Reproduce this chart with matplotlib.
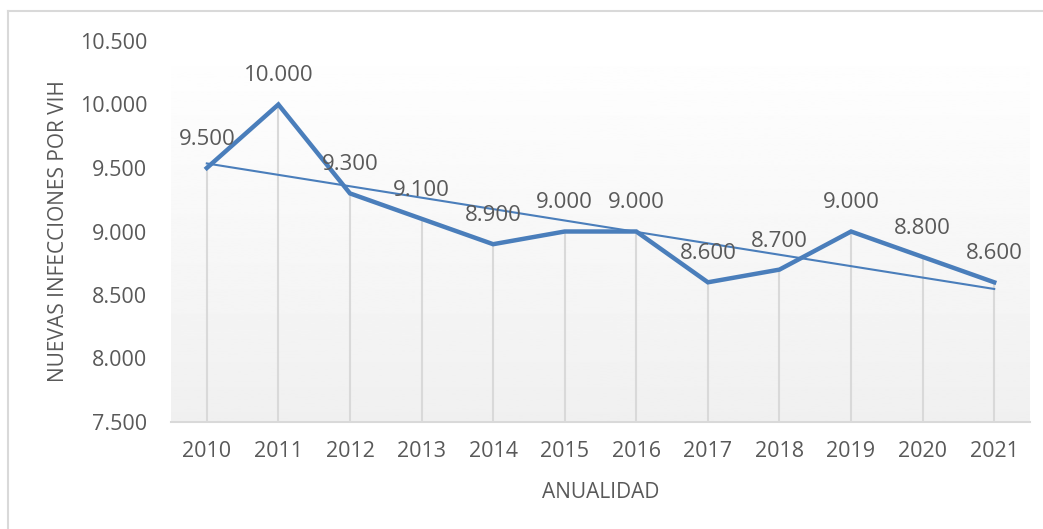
import numpy as np
import matplotlib.pyplot as plt
from matplotlib.lines import Line2D

years = ['2010', '2011', '2012', '2013', '2014', '2015', '2016', '2017', '2018', '2019', '2020', '2021']
values = [9500, 10000, 9300, 9100, 8900, 9000, 9000, 8600, 8700, 9000, 8800, 8600]
y_ticks = [7500, 8000, 8500, 9000, 9500, 10000, 10500]

plt.rcParams['font.family'] = ['Open Sans', 'DejaVu Sans']
txt = '#595959'
blue = '#4a7ebb'

fig = plt.figure(figsize=(10.43, 5.29), dpi=100)
ax = fig.add_axes([171 / 1043, 1 - 422 / 529, (1030 - 171) / 1043, (422 - 41) / 529])

x = np.arange(len(years))
ax.set_xlim(-0.5, len(years) - 0.5)
ax.set_ylim(7500, 10500)

# fondo degradado
grad = np.linspace(1.0, 0.94, 256).reshape(-1, 1)
ax.imshow(grad, cmap='gray', vmin=0, vmax=1, aspect='auto',
          extent=[-0.5, len(years) - 0.5, 7500, 10500], zorder=0)

# lineas de caida
ax.vlines(x, 7500, values, color='#d9d9d9', lw=1.5, zorder=1)

# tendencia lineal
coef = np.polyfit(x, values, 1)
ax.plot(x, np.polyval(coef, x), color=blue, lw=1.5, zorder=2)

ax.plot(x, values, color=blue, lw=3.2, zorder=3, solid_joinstyle='miter')

for xi, v in zip(x, values):
    ax.annotate(f'{v:,}'.replace(',', '.'), (xi, v), xytext=(0, 13),
                textcoords='offset points', ha='center', va='bottom',
                fontsize=16, color=txt, zorder=4)

ax.set_xticks(x)
ax.set_xticklabels(years)
ax.set_yticks(y_ticks)
ax.set_yticklabels([f'{t:,}'.replace(',', '.') for t in y_ticks])
ax.tick_params(axis='both', length=0, labelsize=15.5, labelcolor=txt)
ax.tick_params(axis='x', pad=14)
ax.tick_params(axis='y', pad=17)

for s in ['top', 'right', 'left']:
    ax.spines[s].set_visible(False)
ax.spines['bottom'].set_color('#d9d9d9')
ax.spines['bottom'].set_linewidth(1.5)

ax.set_xlabel('ANUALIDAD', fontsize=15, color=txt, labelpad=14)
ax.set_ylabel('NUEVAS INFECCIONES POR VIH', fontsize=15, color=txt, labelpad=8)

# borde del grafico
fig.add_artist(Line2D([8 / 1043, 1], [1 - 11 / 529] * 2, color='#d9d9d9', lw=1.5))
fig.add_artist(Line2D([8 / 1043] * 2, [0, 1 - 11 / 529], color='#d9d9d9', lw=1.5))

fig.savefig('out.png', dpi=100)
